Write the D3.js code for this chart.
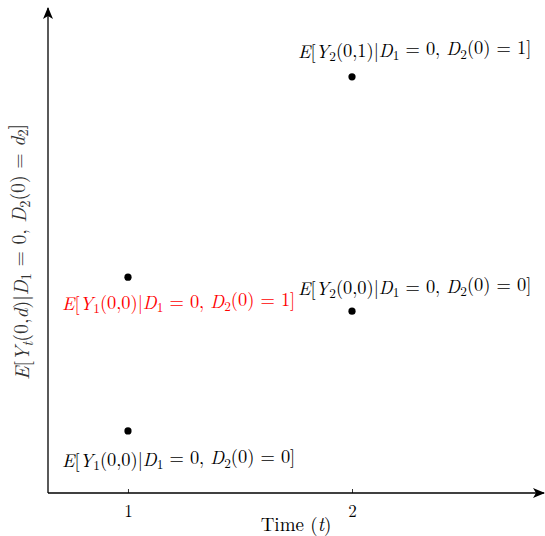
<!DOCTYPE html>
<html>
<head>
<meta charset="utf-8">
<script src="https://cdn.jsdelivr.net/npm/d3@7"></script>
<style>
  body { margin: 0; background: #fff; }
</style>
</head>
<body>
<div id="chart"></div>
<script>
// data
var times = [1, 1, 2, 2]
var values = [1.28, 4.45, 3.75, 8.58]
var labelSub = ['1', '1', '2', '2']
var labelArgs = ['0,0', '0,0', '0,0', '0,1']
var labelCond = ['0', '1', '0', '1']
var labelColors = ['#000', 'red', '#000', '#000']
var xTicks = [1, 2]

var width = 545, height = 536
var font = '"Latin Modern Roman", "Liberation Serif", serif'
var svg = d3.select('#chart').append('svg')
    .attr('width', width)
    .attr('height', height)
    .attr('font-family', font)

var x = d3.scaleLinear().domain([0.643, 2.857]).range([48, 544])
var y = d3.scaleLinear().domain([0, 10]).range([493, 8])

// arrow heads
var defs = svg.append('defs')
defs.append('marker')
    .attr('id', 'arr')
    .attr('viewBox', '0 0 12 10')
    .attr('refX', 11)
    .attr('refY', 5)
    .attr('markerWidth', 12)
    .attr('markerHeight', 10)
    .attr('markerUnits', 'userSpaceOnUse')
    .attr('orient', 'auto')
    .append('path')
    .attr('d', 'M0,0 L12,5 L0,10 L3,5 Z')
    .attr('fill', '#000')

// axes
svg.append('line')
    .attr('x1', x.range()[0]).attr('y1', y(0))
    .attr('x2', x.range()[1]).attr('y2', y(0))
    .attr('stroke', '#000').attr('stroke-width', 1.3)
    .attr('marker-end', 'url(#arr)')
svg.append('line')
    .attr('x1', x.range()[0]).attr('y1', y(0))
    .attr('x2', x.range()[0]).attr('y2', y.range()[1])
    .attr('stroke', '#000').attr('stroke-width', 1.3)
    .attr('marker-end', 'url(#arr)')

var xAxis = svg.append('g')
    .attr('transform', 'translate(0,' + y(0) + ')')
    .call(d3.axisBottom(x).tickValues(xTicks).tickFormat(d3.format('d')).tickSizeInner(-4).tickSizeOuter(0).tickPadding(12))
xAxis.select('.domain').remove()
xAxis.attr('font-family', font).attr('font-size', 17)
xAxis.selectAll('line').attr('stroke', '#000').attr('stroke-width', 0.8)
xAxis.selectAll('text').attr('fill', '#000')

svg.append('text')
    .attr('x', (x.range()[0] + x.range()[1]) / 2)
    .attr('y', 531)
    .attr('text-anchor', 'middle')
    .attr('font-size', 19)
    .html('Time (<tspan font-style="italic">t</tspan>)')

// math-ish label builder
function mathLabel(sel, parts) {
    parts.forEach(function (p) {
        var t = sel.append('tspan').text(p[0])
        if (p[1] === 'i') t.attr('font-style', 'italic')
        if (p[1] === 's') t.attr('font-size', '0.72em').attr('dy', '0.25em')
        if (p[1] === 'si') t.attr('font-size', '0.72em').attr('dy', '0.25em').attr('font-style', 'italic')
        if (p[2]) t.attr('dy', p[2])
    })
}

// y label
var yl = svg.append('text')
    .attr('transform', 'translate(29,252) rotate(-90)')
    .attr('text-anchor', 'middle')
    .attr('font-size', 19.8)
    .attr('fill', '#333')
mathLabel(yl, [['E', 'i'], ['['], ['Y', 'i'], ['t', 'si'], ['(0,', '', '-0.25em'], ['d', 'i'], [')|'], ['D', 'i'], ['1', 's'],
    [' = 0, ', '', '-0.25em'], ['D', 'i'], ['2', 's'], ['(0) = ', '', '-0.25em'], ['d', 'i'], ['2', 's'], [']', '', '-0.25em']])

// points
svg.append('g').selectAll('circle')
    .data(times)
    .enter()
    .append('circle')
    .attr('cx', function (d) { return x(d) })
    .attr('cy', function (d, i) { return y(values[i]) })
    .attr('r', 3.6)
    .attr('fill', '#000')

// labels next to each point
var offs = [[-66, 36], [-66, 33], [-54, -16], [-54, -19]]
times.forEach(function (t, i) {
    var lab = svg.append('text')
        .attr('x', x(t) + offs[i][0])
        .attr('y', y(values[i]) + offs[i][1])
        .attr('fill', labelColors[i])
        .attr('font-size', 18.4)
    mathLabel(lab, [['E', 'i'], ['['], ['Y', 'i'], [labelSub[i], 's'], ['(' + labelArgs[i] + ')|', '', '-0.25em'], ['D', 'i'], ['1', 's'],
        [' = 0, ', '', '-0.25em'], ['D', 'i'], ['2', 's'], ['(0) = ' + labelCond[i] + ']', '', '-0.25em']])
})
</script>
</body>
</html>
